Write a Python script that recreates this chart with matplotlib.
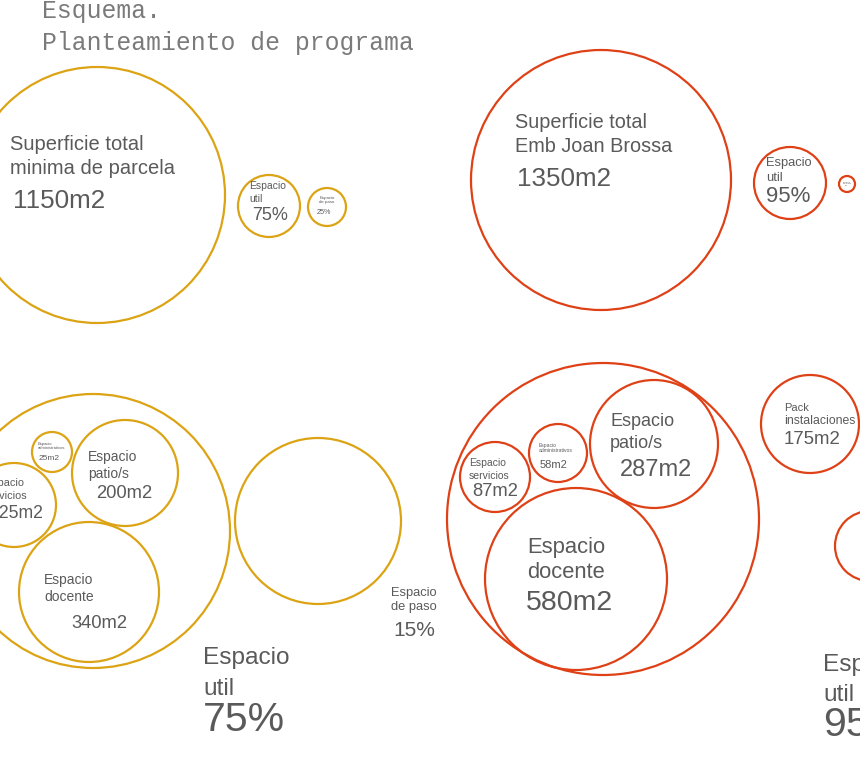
import matplotlib
matplotlib.use('Agg')
from matplotlib import pyplot as plt
from matplotlib.patches import Circle

plt.rcParams['font.family'] = ['Liberation Sans', 'DejaVu Sans']

YELLOW = '#DCA414'
RED = '#DF4117'
GREY = '#5a5a5a'

# programme data (m2 and percentages)
total_parcela = 1150
total_joan_brossa = 1350
util_pct = [75, 95]
paso_pct = [25, 5]
paso_pct_real = 15
yellow_areas = {'docente': 340, 'patio': 200, 'servicios': 125, 'admin': 25}
red_areas = {'docente': 580, 'patio': 287, 'servicios': 87, 'admin': 58, 'pack': 175}

fig = plt.figure(figsize=(8.6, 7.64), dpi=100)
ax = fig.add_axes([0, 0, 1, 1])
ax.set_xlim(0, 860)
ax.set_ylim(764, 0)
ax.axis('off')


def circ(x, y, r, color):
    ax.add_patch(Circle((x, y), r, fill=False, edgecolor=color, lw=1.6))


def txt(x, y, s, size, ha='left'):
    ax.text(x, y, s, fontsize=size, color=GREY, ha=ha, va='center')


# title
ax.text(42, 11, 'Esquema.', family='Liberation Mono', fontsize=17.8, color='#7a7a7a', va='center')
ax.text(42, 43, 'Planteamiento de programa', family='Liberation Mono', fontsize=17.8, color='#7a7a7a', va='center')

# ---- top left (yellow)
circ(97, 195, 128, YELLOW)
txt(10, 145, 'Superficie total', 14.5)
txt(10, 169, 'minima de parcela', 14.5)
txt(13, 201, '%dm2' % total_parcela, 18.7)
circ(269, 206, 31, YELLOW)
txt(249, 186, 'Espacio', 7.5)
txt(249, 199, 'util', 7.5)
txt(252, 216, '%d%%' % util_pct[0], 13)
circ(327, 207, 19, YELLOW)
txt(327, 200, 'Espacio\nde paso', 3.2, ha='center')
txt(324, 212, '%d%%' % paso_pct[0], 5.2, ha='center')

# ---- top right (red)
circ(601, 180, 130, RED)
txt(515, 122, 'Superficie total', 14.3)
txt(515, 147, 'Emb Joan Brossa', 14.3)
txt(517, 179, '%dm2' % total_joan_brossa, 18.7)
circ(790, 183, 36, RED)
txt(766, 163, 'Espacio', 9.3)
txt(766, 178, 'util', 9.3)
txt(766, 197, '%d%%' % util_pct[1], 16)
circ(847, 184, 8, RED)
txt(847, 184, 'Espacio\nde paso\n%d%%' % paso_pct[1], 1.6, ha='center')

# ---- bottom left (yellow)
circ(93, 531, 137, YELLOW)
circ(52, 452, 20, YELLOW)
txt(38, 446, 'Espacio\nadministrativos', 3.0)
txt(39, 459, '%dm2' % yellow_areas['admin'], 6)
circ(125, 473, 53, YELLOW)
txt(88, 457, 'Espacio', 10)
txt(88, 474, 'patio/s', 10)
txt(96, 494, '%dm2' % yellow_areas['patio'], 13.2)
circ(14, 505, 42, YELLOW)
# this circle runs off the left edge, as in the original sketch
txt(-15, 483, 'Espacio', 7.8)
txt(-15, 496, 'servicios', 7.8)
txt(-10, 514, '%dm2' % yellow_areas['servicios'], 12.7)
circ(89, 592, 70, YELLOW)
txt(44, 580, 'Espacio', 10)
txt(44, 597, 'docente', 10)
txt(71, 624, '%dm2' % yellow_areas['docente'], 13.2)
circ(318, 521, 83, YELLOW)
txt(391, 593, 'Espacio', 9.3)
txt(391, 607, 'de paso', 9.3)
txt(393, 630, '%d%%' % paso_pct_real, 15)
txt(203, 658, 'Espacio', 17.6)
txt(203, 689, 'util', 17.6)
txt(203, 720, '%d%%' % util_pct[0], 29.5)

# ---- bottom right (red)
circ(603, 519, 156, RED)
circ(495, 477, 35, RED)
txt(469, 463, 'Espacio', 7.5)
txt(469, 476, 'servicios', 7.5)
txt(472, 492, '%dm2' % red_areas['servicios'], 13.2)
circ(558, 453, 29, RED)
txt(539, 448, 'Espacio\nadministrativos', 3.6)
txt(540, 465, '%dm2' % red_areas['admin'], 8)
circ(654, 444, 64, RED)
txt(610, 421, 'Espacio', 13)
txt(610, 444, 'patio/s', 13)
txt(620, 470, '%dm2' % red_areas['patio'], 17)
circ(576, 579, 91, RED)
txt(527, 547, 'Espacio', 15.8)
txt(527, 573, 'docente', 15.8)
txt(526, 603, '%dm2' % red_areas['docente'], 20.5)
circ(810, 424, 49, RED)
txt(784, 408, 'Pack', 8)
txt(784, 421, 'instalaciones', 8.8)
txt(784, 439, '%dm2' % red_areas['pack'], 13.4)
circ(870, 546, 35, RED)
txt(823, 665, 'Espacio', 17.6)
txt(823, 695, 'util', 17.6)
txt(823, 725, '%d%%' % util_pct[1], 29.5)

fig.savefig('out.png', dpi=100)
